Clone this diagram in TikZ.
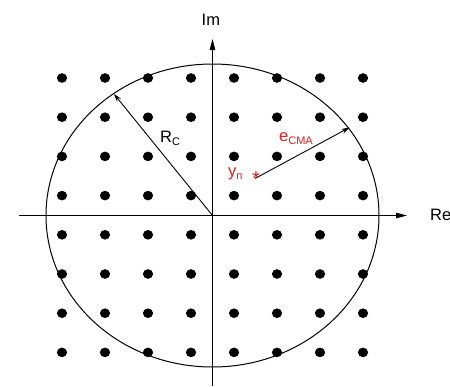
\documentclass[tikz,border=0pt]{standalone}
\usepackage{fontspec}
\setmainfont{Liberation Sans}
\usetikzlibrary{arrows.meta}
\definecolor{lblred}{RGB}{222,28,28}
\newcommand\mysub[1]{\raisebox{-0.4ex}{\fontsize{11}{11}\selectfont #1}}
\tikzset{
  dotmark/.style={fill=black,draw=none},
  axisline/.style={line width=0.9pt,-{Triangle[length=11pt,width=5.5pt]}},
  vecline/.style={line width=0.9pt,-{Stealth[length=8pt,width=5pt]}},
  lbl/.style={inner sep=0pt,font=\fontsize{16.5}{16.5}\selectfont},
}
\begin{document}
\begin{tikzpicture}[x=1pt,y=-1pt]
\useasboundingbox (0,0) rectangle (450,386);
% dots
\foreach \i in {0,...,7}{
  \foreach \j in {0,...,7}{
    \fill[dotmark] ({62+43*\i},{78+39.2*\j}) ellipse [x radius=5.1pt, y radius=4.8pt];
  }
}
% coordinates
\coordinate (O) at (212.5,215.5);
\coordinate (xs) at (19,215.5);
\coordinate (xe) at (407,215.5);
\coordinate (ys) at (212.5,386);
\coordinate (ye) at (212.5,39);
\coordinate (rc) at (114,94);
\coordinate (st) at (255,178.5);
\coordinate (en) at (349.5,127.5);
% circle
\draw[line width=1pt] (O) ellipse [x radius=166.5pt, y radius=151.5pt];
% axes
\draw[axisline] (xs) -- (xe);
\draw[axisline] (ys) -- (ye);
% vectors
\draw[vecline] (O) -- (rc);
\draw[vecline] (st) -- (en);
% labels
\node[lbl,anchor=base west] (im) at (201.5,25.5) {Im};
\node[lbl,anchor=base west] (re) at (430,220.5) {Re};
\node[lbl,anchor=base west] (rclbl) at (160,142) {R\mysub{C}};
\node[lbl,anchor=base west,text=lblred] (ecma) at (279,141) {e\mysub{CMA}};
\node[lbl,anchor=base west,text=lblred] (yn) at (228,176.5) {y\mysub{n}};
\node[inner sep=0pt,text=lblred,font=\fontsize{20}{20}\selectfont] (star) at (256,179) {*};
\end{tikzpicture}
\end{document}
